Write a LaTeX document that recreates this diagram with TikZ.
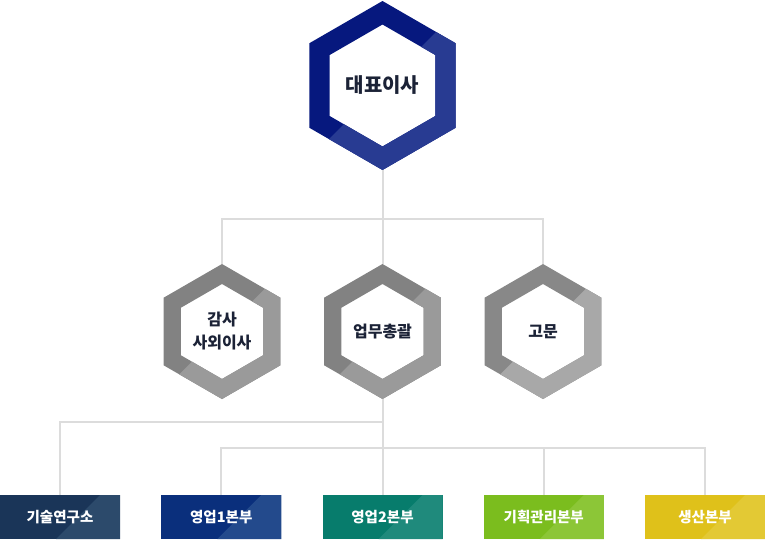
\documentclass[tikz,border=0pt]{standalone}
\usepackage{fontspec}
\newfontfamily\krfont{Noto Sans CJK KR}
\usetikzlibrary{positioning,calc}
\definecolor{ceodark}{HTML}{06187E}
\definecolor{ceolight}{HTML}{283B92}
\definecolor{greydark}{HTML}{828282}
\definecolor{greylight}{HTML}{9A9A9A}
\definecolor{advdark}{HTML}{888888}
\definecolor{advlight}{HTML}{A8A8A8}
\definecolor{labdark}{HTML}{1A3558}
\definecolor{lablight}{HTML}{2C4A6B}
\definecolor{saleAdark}{HTML}{0A2F7C}
\definecolor{saleAlight}{HTML}{234A8C}
\definecolor{saleBdark}{HTML}{077C6C}
\definecolor{saleBlight}{HTML}{1F8A7C}
\definecolor{plandark}{HTML}{7BBD1E}
\definecolor{planlight}{HTML}{8CC637}
\definecolor{proddark}{HTML}{DFC11A}
\definecolor{prodlight}{HTML}{E3C934}
\definecolor{txtdark}{HTML}{1B2236}
\definecolor{linkgrey}{HTML}{DCDCDC}
\tikzset{
  hexnode/.style    = {circle, minimum size=#1, inner sep=0pt, outer sep=0pt,
                       align=center, text=txtdark},
  dept/.style 2 args = {rectangle, minimum width=120pt, minimum height=44pt,
                       inner sep=0pt, outer sep=0pt, fill=#1, text=white,
                       font=\krfont\bfseries\fontsize{14.5}{16}\selectfont,
                       path picture={\fill[#2] ([xshift=40pt]path picture bounding box.north)
                         -- (path picture bounding box.north east)
                         -- (path picture bounding box.south east)
                         -- ([xshift=-4pt]path picture bounding box.south) -- cycle;}},
  link/.style       = {draw=linkgrey, line width=2pt},
  node distance     = 41.25pt,
}
\newcommand{\hexpath}[2]{([shift={(90:#2)}]#1.center) -- ([shift={(150:#2)}]#1.center)
  -- ([shift={(210:#2)}]#1.center) -- ([shift={(270:#2)}]#1.center)
  -- ([shift={(330:#2)}]#1.center) -- ([shift={(30:#2)}]#1.center) -- cycle}
\newcommand{\hexring}[5]{%
  \fill[#4, even odd rule] \hexpath{#1}{#2} \hexpath{#1}{#3};
  \begin{scope}
    \clip (#1.center) ++(45:100) -- ++(-45:200) -- ++(-135:200) -- ++(135:200) -- cycle;
    \fill[#5, even odd rule] \hexpath{#1}{#2} \hexpath{#1}{#3};
  \end{scope}}

\begin{document}
\begin{tikzpicture}[x=1pt, y=1pt]
  \useasboundingbox (0,0) rectangle (765,-539);
  \node[hexnode=169pt, font=\krfont\bfseries\fontsize{20}{22}\selectfont] (ceo) at (382.5,-85.5) {대표이사};
  \node[hexnode=135pt, font=\krfont\bfseries\fontsize{16}{23}\selectfont, below=94pt of ceo] (gen) {업무총괄};
  \node[hexnode=135pt, font=\krfont\bfseries\fontsize{16}{23}\selectfont, left=25.5pt of gen] (audit) {감사\\사외이사};
  \node[hexnode=135pt, font=\krfont\bfseries\fontsize{16}{23}\selectfont, right=25.5pt of gen] (advisor) {고문};
  \hexring{ceo}{84.5}{61}{ceodark}{ceolight}
  \hexring{audit}{67.5}{47.5}{greydark}{greylight}
  \hexring{gen}{67.5}{47.5}{greydark}{greylight}
  \hexring{advisor}{67.5}{47.5}{advdark}{advlight}

  \node[dept={saleBdark}{saleBlight}, below=96pt of gen] (sales2) {영업2본부};
  \node[dept={saleAdark}{saleAlight}, left=of sales2] (sales1) {영업1본부};
  \node[dept={labdark}{lablight}, left=of sales1] (lab) {기술연구소};
  \node[dept={plandark}{planlight}, right=of sales2] (plan) {기획관리본부};
  \node[dept={proddark}{prodlight}, right=of plan] (prod) {생산본부};

  \draw[link] (ceo.south) -- (gen.north);
  \draw[link] (audit.north) -- ++(0,45) -| (advisor.north);
  \draw[link] (gen.south) -- (sales2.north);
  \draw[link] (lab.north) -- ++(0,73) coordinate (bus) -- (bus -| gen.south);
  \draw[link] (sales1.north) -- ++(0,47) -| (prod.north);
  \draw[link] (plan.north) -- ++(0,47);
\end{tikzpicture}
\end{document}
